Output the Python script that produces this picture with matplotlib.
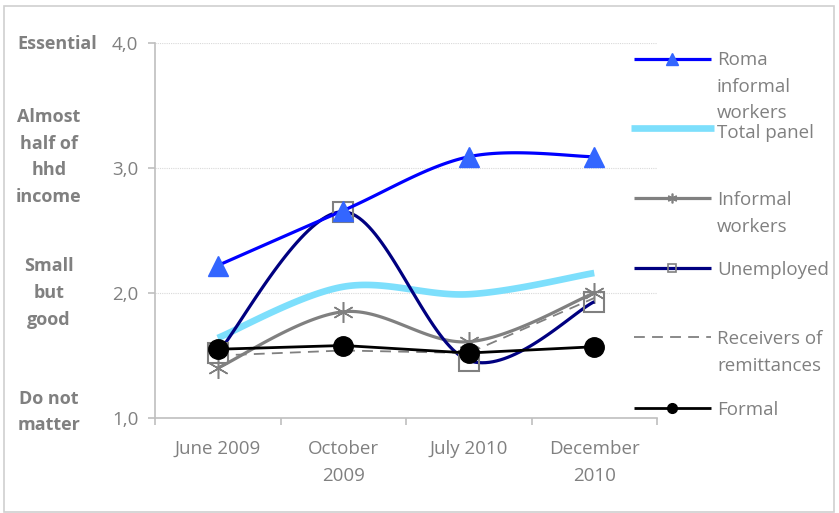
import numpy as np
import matplotlib
matplotlib.use("Agg")
import matplotlib.pyplot as plt
from matplotlib.lines import Line2D
from matplotlib.patches import Rectangle
from matplotlib.transforms import ScaledTranslation

# Survey waves
waves = ["June 2009", "October\n2009", "July 2010", "December\n2010"]

# Average importance score per group (1 = do not matter ... 4 = essential)
roma_informal = [2.22, 2.66, 3.09, 3.09]
total_panel = [1.64, 2.05, 1.99, 2.16]
informal_workers = [1.40, 1.85, 1.61, 2.00]
unemployed = [1.52, 2.65, 1.46, 1.93]
remittances = [1.50, 1.54, 1.52, 1.96]
formal = [1.55, 1.58, 1.52, 1.57]

scale_labels = ["Essential", "Almost\nhalf of\nhhd\nincome", "Small\nbut\ngood", "Do not\nmatter"]
y_ticks = [1.0, 2.0, 3.0, 4.0]

FONT = "Open Sans"
FS = 13.5
LS = 1.62
GREY_TXT = "#808080"

W, H = 839, 513
fig = plt.figure(figsize=(W / 100, H / 100), dpi=100)


def fx(px):
    return px / W


def fy(py):
    return 1 - py / H


ax = fig.add_axes([fx(155), fy(418), fx(657) - fx(155), fy(43) - fy(418)])
ax.set_xlim(-0.5, 3.5)
ax.set_ylim(1.0, 4.0)


def smooth(xs, ys, n=40):
    """Catmull-Rom curve through the points (Excel-style smoothed line)."""
    p = np.column_stack([xs, ys]).astype(float)
    p = np.vstack([p[0], p, p[-1]])
    out = []
    for i in range(1, len(p) - 2):
        p0, p1, p2, p3 = p[i - 1], p[i], p[i + 1], p[i + 2]
        t = np.linspace(0, 1, n)[:, None]
        seg = 0.5 * ((2 * p1) + (-p0 + p2) * t + (2 * p0 - 5 * p1 + 4 * p2 - p3) * t ** 2
                     + (-p0 + 3 * p1 - 3 * p2 + p3) * t ** 3)
        out.append(seg if i == 1 else seg[1:])
    c = np.vstack(out)
    return c[:, 0], c[:, 1]


x = np.arange(len(waves))

series = [
    # values, line style, marker style, curve smoothing
    (roma_informal, dict(color="#0000ff", lw=2.3, zorder=8),
     dict(marker="^", ms=14, mfc="#3366ff", mec="#3366ff", mew=1), True),
    (total_panel, dict(color="#7ddffc", lw=4.8, zorder=3), None, True),
    (informal_workers, dict(color="#808080", lw=2.3, zorder=4),
     dict(marker=(6, 2, 0), ms=15, mfc="none", mec="#808080", mew=1.1), True),
    (unemployed, dict(color="#000080", lw=2.3, zorder=5),
     dict(marker="s", ms=14, mfc="none", mec="#808080", mew=1.5), True),
    (remittances, dict(color="#808080", lw=1.3, ls=(0, (6, 4)), zorder=6), None, False),
    (formal, dict(color="#000000", lw=2.0, zorder=7),
     dict(marker="o", ms=14, mfc="#000000", mec="#000000"), False),
]

for vals, lstyle, mstyle, sm in series:
    if sm:
        cx, cy = smooth(x, vals)
    else:
        cx, cy = x, np.asarray(vals)
    ax.plot(cx, cy, solid_capstyle="butt", clip_on=False, **lstyle)
    if mstyle:
        ax.plot(x, vals, ls="none", zorder=lstyle["zorder"] + 0.5, clip_on=False, **mstyle)

# Axes styling
for s in ["top", "right"]:
    ax.spines[s].set_visible(False)
for s in ["left", "bottom"]:
    ax.spines[s].set_color("#bfbfbf")
    ax.spines[s].set_linewidth(1.2)

ax.set_yticks(y_ticks)
ax.set_yticklabels([f"{v:.1f}".replace(".", ",") for v in y_ticks],
                   fontfamily=FONT, fontsize=FS, color=GREY_TXT)
ax.set_xticks(np.arange(-0.5, 3.6, 1.0))
ax.set_xticklabels([])
ax.tick_params(axis="both", direction="out", length=5, width=1.2, color="#bfbfbf")
ax.tick_params(axis="y", pad=7)

# Category labels centred under each wave
offset = ScaledTranslation(0, -22 / 100, fig.dpi_scale_trans)
for i, lab in enumerate(waves):
    ax.text(i, 1.0, lab, transform=ax.transData + offset, ha="center", va="top",
            fontfamily=FONT, fontsize=FS, color=GREY_TXT, linespacing=LS)

# Horizontal gridlines extend across the legend column
for v in [2.0, 3.0, 4.0]:
    ax.plot([-0.5, 3.5], [v, v], color="#d9d9d9", lw=0.8, ls=(0, (1, 1)), zorder=1)

# Scale descriptions on the left
fig.text(fx(17), fy(44), scale_labels[0], ha="left", va="center", fontfamily=FONT,
         fontweight="bold", fontsize=FS - 0.5, color=GREY_TXT)
for lab, yc in zip(scale_labels[1:], [157, 293, 412]):
    fig.text(fx(49), fy(yc), lab, ha="center", va="center", fontfamily=FONT,
             fontweight="bold", fontsize=FS - 0.5, color=GREY_TXT, linespacing=LS)

# Legend drawn in figure space: (label, line y, text y, line style, marker style)
legend_items = [
    ("Roma\ninformal\nworkers", 59, 51, dict(color="#0000ff", lw=2.3),
     dict(marker="^", ms=9, mfc="#3366ff", mec="#3366ff")),
    ("Total panel", 128, 124, dict(color="#7ddffc", lw=4.8), None),
    ("Informal\nworkers", 198, 191, dict(color="#808080", lw=2.3),
     dict(marker=(6, 2, 0), ms=7, mfc="none", mec="#808080", mew=1.2)),
    ("Unemployed", 268, 261, dict(color="#000080", lw=2.3),
     dict(marker="s", ms=6, mfc="none", mec="#808080", mew=1.2)),
    ("Receivers of\nremittances", 337, 330, dict(color="#808080", lw=1.3, ls=(0, (6, 4))), None),
    ("Formal", 408, 401, dict(color="#000000", lw=2.0),
     dict(marker="o", ms=7, mfc="#000000", mec="#000000")),
]
for label, ly, ty, lst, mst in legend_items:
    x0, x1 = (631, 714) if lst["lw"] > 4 else (634, 711)
    fig.add_artist(Line2D([fx(x0), fx(x1)], [fy(ly), fy(ly)], transform=fig.transFigure,
                          solid_capstyle="butt", **lst))
    if mst:
        fig.add_artist(Line2D([fx(672)], [fy(ly)], transform=fig.transFigure, ls="none", **mst))
    fig.text(fx(717), fy(ty), label, ha="left", va="top", fontfamily=FONT,
             fontsize=FS, color=GREY_TXT, linespacing=LS)

# Chart border
fig.add_artist(Rectangle((fx(4), fy(512)), fx(834) - fx(4), fy(6) - fy(512),
                         transform=fig.transFigure, fill=False, ec="#d0d0d0", lw=1.2))

fig.savefig("out.png", dpi=100)
